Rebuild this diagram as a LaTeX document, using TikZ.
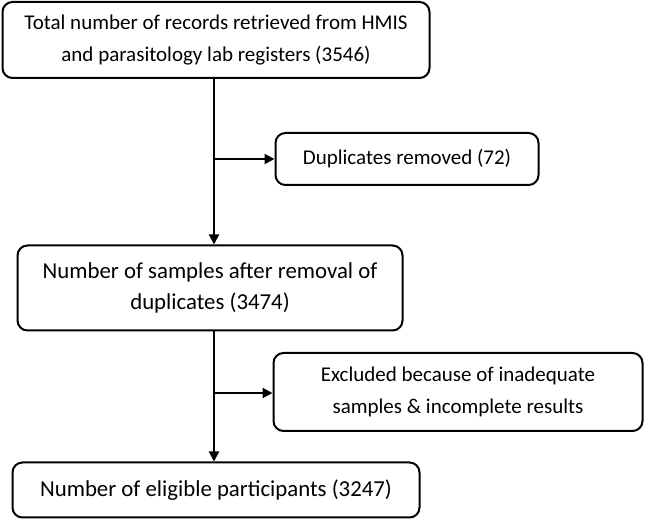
\documentclass[tikz,border=0pt]{standalone}
\usepackage{fontspec}
\setmainfont{Carlito}
\usepackage{tikz}
\usetikzlibrary{arrows.meta}

\begin{document}
\begin{tikzpicture}[x=1pt, y=-1pt,
    box/.style={draw, line width=2pt, rounded corners=10pt, align=center,
        inner sep=0pt, font=\fontsize{21}{32}\selectfont},
    bigbox/.style={box, font=\fontsize{22.8}{31}\selectfont},
    flow/.style={line width=2pt, -{Triangle[length=10pt, width=10pt]}}]
        \useasboundingbox (0,0) rectangle (646,521);

        \node[box, minimum width=427pt, minimum height=76pt] (total) at (216,40)
            {Total number of records retrieved from HMIS\\and parasitology lab registers (3546)};
        \node[box, minimum width=263pt, minimum height=52pt] (dup) at (407,159)
            {Duplicates removed (72)};
        \node[bigbox, minimum width=385pt, minimum height=85pt] (samples) at (210,288)
            {Number of samples after removal of\\duplicates (3474)};
        \node[box, minimum width=369pt, minimum height=78pt] (excl) at (458,392)
            {Excluded because of inadequate\\samples \& incomplete results};
        \node[bigbox, minimum width=407pt, minimum height=55pt] (elig) at (216,490)
            {Number of eligible participants (3247)};

        \coordinate (j1) at (214,159);
        \coordinate (j2) at (214,393);

        \draw[flow] (total.south -| j1) -- (samples.north -| j1);
        \draw[flow] (j1) -- (dup.west);
        \draw[flow] (samples.south -| j2) -- (elig.north -| j2);
        \draw[flow] (j2) -- (excl.west |- j2);
    \end{tikzpicture}
\end{document}
